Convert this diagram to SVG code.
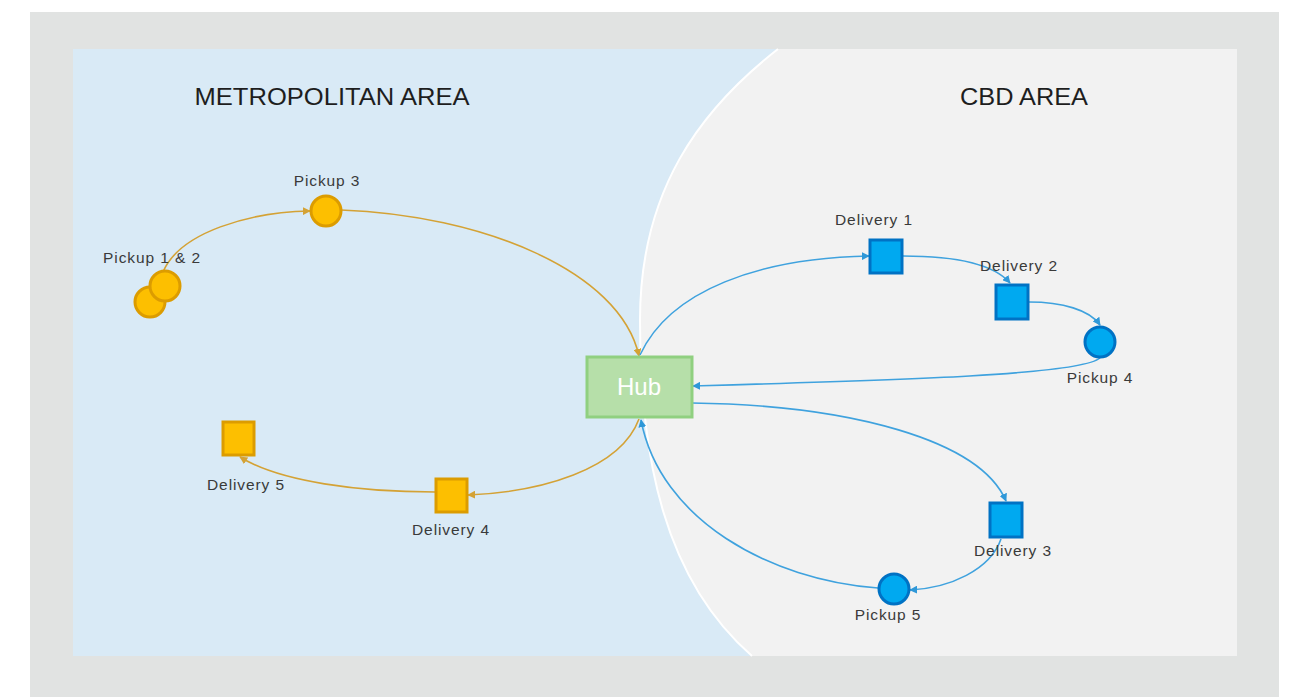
<svg xmlns="http://www.w3.org/2000/svg" width="1296" height="697" viewBox="0 0 1296 697">
<style>
.title{font-family:"Liberation Sans",Arial,sans-serif;font-size:24px;fill:#1e1e1e;text-anchor:middle}
.lbl{font-family:"Liberation Sans",Arial,sans-serif;font-size:15.5px;letter-spacing:0.9px;fill:#3a3a3a;text-anchor:middle}
.opk{fill:#fdbf00;stroke:#dc9c00;stroke-width:3}
.bpk{fill:#00a9f0;stroke:#0072c4;stroke-width:3}
.oc{fill:none;stroke:#d4a235;stroke-width:1.6}
.bc{fill:none;stroke:#3fa2de;stroke-width:1.6}
</style>
<defs>
<marker id="ao" viewBox="0 0 10 10" refX="9" refY="5" markerWidth="8" markerHeight="8" markerUnits="userSpaceOnUse" orient="auto"><path d="M0,0 L10,5 L0,10 Z" fill="#d4a235"/></marker>
<marker id="ab" viewBox="0 0 10 10" refX="9" refY="5" markerWidth="8" markerHeight="8" markerUnits="userSpaceOnUse" orient="auto"><path d="M0,0 L10,5 L0,10 Z" fill="#2f98d8"/></marker>
</defs>
<rect x="30" y="12" width="1249" height="685" fill="#e1e3e2"/>
<rect x="73" y="49" width="1164" height="607" fill="#d9eaf6"/>
<path d="M778,49 C700,110 640,190 640,320 C640,460 665,580 752,656 L1237,656 L1237,49 Z" fill="#f2f2f2"/>
<path d="M778,49 C700,110 640,190 640,320 C640,460 665,580 752,656" fill="none" stroke="#ffffff" stroke-width="2"/>
<text class="title" x="332" y="105" textLength="275" lengthAdjust="spacingAndGlyphs">METROPOLITAN AREA</text>
<text class="title" x="1024" y="105" textLength="128" lengthAdjust="spacingAndGlyphs">CBD AREA</text>
<g id="connectors">
<path class="oc" d="M163,272 C180,232 250,212 310,211" marker-end="url(#ao)"/>
<path class="oc" d="M341,210 C480,215 620,270 639,356" marker-end="url(#ao)"/>
<path class="oc" d="M639,419 C620,470 540,492 468,495" marker-end="url(#ao)"/>
<path class="oc" d="M435,492 C360,492 280,482 240,457" marker-end="url(#ao)"/>
<path class="bc" d="M640,355 C670,290 760,258 869,256" marker-end="url(#ab)"/>
<path class="bc" d="M903,256 C950,256 992,262 1010,283" marker-end="url(#ab)"/>
<path class="bc" d="M1029,302 C1062,302 1090,310 1100,325" marker-end="url(#ab)"/>
<path class="bc" d="M1100,358 C1080,375 900,380 693,386" marker-end="url(#ab)"/>
<path class="bc" d="M692,403 C850,405 980,440 1006,501" marker-end="url(#ab)"/>
<path class="bc" d="M1001,539 C990,570 950,588 910,590" marker-end="url(#ab)"/>
<path class="bc" d="M878,588 C770,580 660,520 641,420" marker-end="url(#ab)"/>
</g>
<g id="pickup12">
<circle class="opk" cx="150" cy="302" r="15"/>
<circle class="opk" cx="165" cy="286" r="15"/>
<text class="lbl" x="152" y="263">Pickup 1 &amp; 2</text>
</g>
<g id="pickup3">
<circle class="opk" cx="326" cy="211" r="15"/>
<text class="lbl" x="327" y="186">Pickup 3</text>
</g>
<g id="hub">
<rect x="587" y="357" width="105" height="60" fill="#b6dfa9" stroke="#90d080" stroke-width="3"/>
<text x="639" y="395" font-family="'Liberation Sans',Arial,sans-serif" font-size="24" fill="#ffffff" text-anchor="middle">Hub</text>
</g>
<g id="delivery1">
<rect class="bpk" x="870" y="240" width="32" height="33"/>
<text class="lbl" x="874" y="225">Delivery 1</text>
</g>
<g id="delivery2">
<rect class="bpk" x="996" y="285" width="32" height="34"/>
<text class="lbl" x="1019" y="271">Delivery 2</text>
</g>
<g id="pickup4">
<circle class="bpk" cx="1100" cy="342" r="15"/>
<text class="lbl" x="1100" y="383">Pickup 4</text>
</g>
<g id="delivery3">
<rect class="bpk" x="990" y="503" width="32" height="34"/>
<text class="lbl" x="1013" y="556">Delivery 3</text>
</g>
<g id="pickup5">
<circle class="bpk" cx="894" cy="589" r="15"/>
<text class="lbl" x="888" y="620">Pickup 5</text>
</g>
<g id="delivery4">
<rect class="opk" x="436" y="479" width="31" height="33"/>
<text class="lbl" x="451" y="535">Delivery 4</text>
</g>
<g id="delivery5">
<rect class="opk" x="223" y="422" width="31" height="33"/>
<text class="lbl" x="246" y="490">Delivery 5</text>
</g>
</svg>
